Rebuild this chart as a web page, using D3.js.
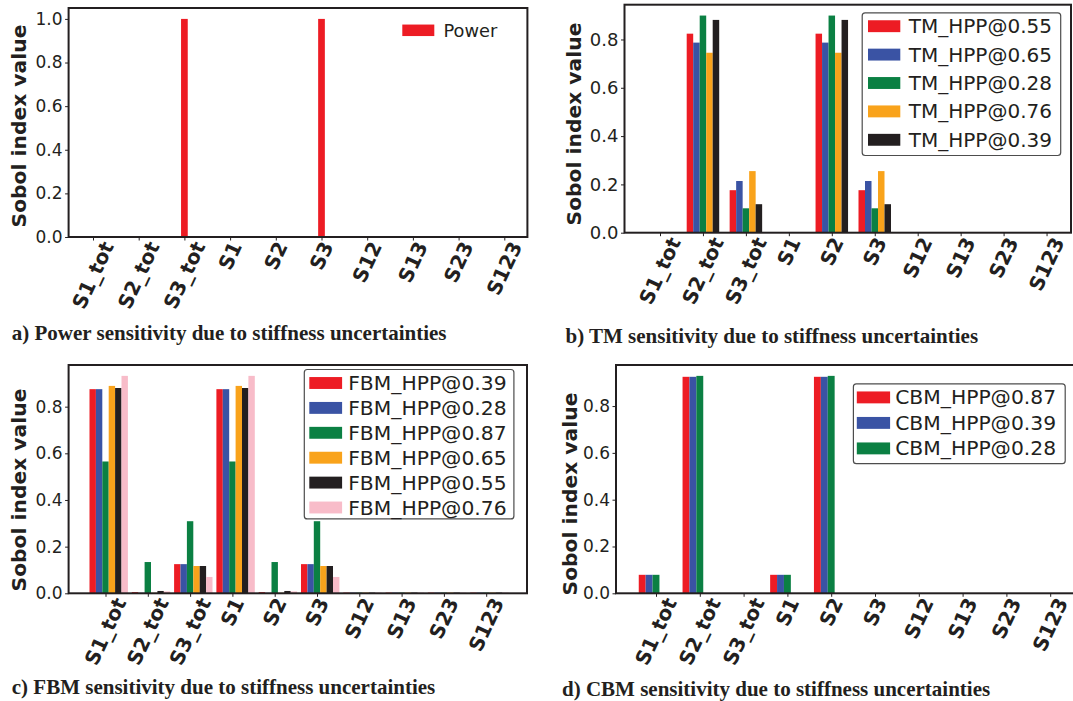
<!DOCTYPE html>
<html>
<head>
<meta charset="utf-8">
<script src="https://cdn.jsdelivr.net/npm/d3@7"></script>
<style>
  html, body { margin: 0; padding: 0; background: #ffffff; }
  svg { display: block; }
</style>
</head>
<body>
<svg id="fig" width="1073" height="701"></svg>
<script>
// Sobol indices that are reported for each output
const categories = ["S1_tot", "S2_tot", "S3_tot", "S1", "S2", "S3", "S12", "S13", "S23", "S123"];

// a) Power
const powerNames = ["Power"];
const powerValues = [
  [0, 0, 1.0, 0, 0, 1.0, 0, 0, 0, 0]
];

// b) TM
const tmNames = ["TM_HPP@0.55", "TM_HPP@0.65", "TM_HPP@0.28", "TM_HPP@0.76", "TM_HPP@0.39"];
const tmValues = [
  [0.002, 0.824, 0.176, 0.002, 0.824, 0.176, 0.002, 0.002, 0.002, 0.002],
  [0.002, 0.787, 0.214, 0.002, 0.787, 0.214, 0.002, 0.002, 0.002, 0.002],
  [0.002, 0.899, 0.101, 0.002, 0.899, 0.101, 0.002, 0.002, 0.002, 0.002],
  [0.002, 0.745, 0.255, 0.002, 0.745, 0.255, 0.002, 0.002, 0.002, 0.002],
  [0.002, 0.881, 0.118, 0.002, 0.881, 0.118, 0.002, 0.002, 0.002, 0.002]
];

// c) FBM
const fbmNames = ["FBM_HPP@0.39", "FBM_HPP@0.28", "FBM_HPP@0.87", "FBM_HPP@0.65", "FBM_HPP@0.55", "FBM_HPP@0.76"];
const fbmValues = [
  [0.875, 0.005, 0.125, 0.875, 0.005, 0.125, 0.003, 0.003, 0.003, 0.003],
  [0.875, 0.002, 0.125, 0.875, 0.002, 0.125, 0.003, 0.003, 0.003, 0.003],
  [0.565, 0.134, 0.309, 0.565, 0.134, 0.309, 0.003, 0.003, 0.003, 0.003],
  [0.889, 0.002, 0.117, 0.889, 0.002, 0.117, 0.003, 0.003, 0.003, 0.003],
  [0.880, 0.010, 0.117, 0.880, 0.010, 0.117, 0.003, 0.003, 0.003, 0.003],
  [0.932, 0.008, 0.070, 0.932, 0.008, 0.070, 0.003, 0.003, 0.003, 0.003]
];

// d) CBM
const cbmNames = ["CBM_HPP@0.87", "CBM_HPP@0.39", "CBM_HPP@0.28"];
const cbmValues = [
  [0.079, 0.925, 0, 0.079, 0.925, 0, 0, 0, 0, 0],
  [0.079, 0.925, 0, 0.079, 0.925, 0, 0, 0, 0, 0],
  [0.079, 0.929, 0, 0.079, 0.929, 0, 0, 0, 0, 0]
];

const yTickValues = [0, 0.2, 0.4, 0.6, 0.8, 1.0];
const yLabel = "Sobol index value";
const captions = [
  "a) Power sensitivity due to stiffness uncertainties",
  "b) TM sensitivity due to stiffness uncertainties",
  "c) FBM sensitivity due to stiffness uncertainties",
  "d) CBM sensitivity due to stiffness uncertainties"
];

const colors = ["#ED1C24", "#3A53A4", "#0B8043", "#F9A31B", "#231F20", "#F8BCC9"];
const ink = "#231F20";
const sans = "DejaVu Sans, Noto Sans, sans-serif";
const serif = "Liberation Serif, Times New Roman, serif";

const fig = d3.select("#fig");

// one bar-chart panel
function drawPanel(cfg) {
  const g = fig.append("g");
  const { l, t, r, b } = cfg.frame;
  const n = categories.length;

  const x = d3.scalePoint()
    .domain(categories)
    .range([cfg.tick0, cfg.tick0 + cfg.step * (n - 1)]);
  const yMax = d3.max(cfg.values.flat()) * 1.05;
  const y = d3.scaleLinear().domain([0, yMax]).range([b, t]);

  // bars, grouped per category
  cfg.values.forEach((series, j) => {
    g.append("g")
      .selectAll("rect")
      .data(series)
      .join("rect")
      .attr("x", (v, i) => x(categories[i]) + (j - cfg.ref - 0.5) * cfg.barW)
      .attr("y", v => y(v))
      .attr("width", cfg.barW)
      .attr("height", v => y(0) - y(v))
      .attr("fill", colors[j]);
  });

  // axes frame
  g.append("rect")
    .attr("x", l).attr("y", t)
    .attr("width", r - l).attr("height", b - t)
    .attr("fill", "none")
    .attr("stroke", ink)
    .attr("stroke-width", 2);

  // y axis
  const yAxis = d3.axisLeft(y)
    .tickValues(yTickValues.filter(v => v <= yMax))
    .tickFormat(d3.format(".1f"))
    .tickSize(3.5)
    .tickPadding(2.5);
  const ya = g.append("g").attr("transform", `translate(${l},0)`).call(yAxis);
  ya.select(".domain").remove();
  ya.selectAll(".tick line").attr("stroke", ink).attr("stroke-width", 1);
  ya.selectAll(".tick text")
    .attr("font-family", sans)
    .attr("font-size", cfg.yFont)
    .attr("fill", ink);

  // x axis tick marks
  const xAxis = d3.axisBottom(x).tickSize(3.5).tickFormat("");
  const xa = g.append("g").attr("transform", `translate(0,${b})`).call(xAxis);
  xa.select(".domain").remove();
  xa.selectAll(".tick line").attr("stroke", ink).attr("stroke-width", 1);

  // rotated category labels, bounding box centred under each tick
  const ang = 65 * Math.PI / 180;
  const fs = cfg.xFont;
  g.append("g")
    .selectAll("text")
    .data(categories)
    .join("text")
    .text(d => d)
    .attr("font-family", sans)
    .attr("font-weight", "bold")
    .attr("font-size", fs)
    .attr("fill", ink)
    .attr("text-anchor", "middle")
    .attr("dominant-baseline", "central")
    .attr("transform", function (d) {
      const L = this.getComputedTextLength();
      const h = 1.164 * fs;
      const ext = L * Math.sin(ang) + h * Math.cos(ang);
      return `translate(${x(d)},${b + cfg.xPad + ext / 2}) rotate(-65)`;
    });

  // y label
  g.append("text")
    .text(yLabel)
    .attr("font-family", sans)
    .attr("font-weight", "bold")
    .attr("font-size", 20.3)
    .attr("fill", ink)
    .attr("text-anchor", "middle")
    .attr("dominant-baseline", "central")
    .attr("transform", `translate(${cfg.yLabelX},${cfg.yLabelY}) rotate(-90)`);

  // legend
  const lg = cfg.legend;
  const leg = g.append("g");
  if (lg.box) {
    leg.append("rect")
      .attr("x", lg.box[0]).attr("y", lg.box[1])
      .attr("width", lg.box[2] - lg.box[0]).attr("height", lg.box[3] - lg.box[1])
      .attr("rx", 3).attr("ry", 3)
      .attr("fill", "#ffffff")
      .attr("stroke", "#4d4d4d")
      .attr("stroke-width", 1.2);
  }
  const rows = leg.selectAll("g.row")
    .data(cfg.names)
    .join("g")
    .attr("class", "row")
    .attr("transform", (d, i) => `translate(0,${lg.y0 + i * lg.dy})`);
  rows.append("rect")
    .attr("x", lg.px)
    .attr("y", -lg.ph / 2)
    .attr("width", lg.pw)
    .attr("height", lg.ph)
    .attr("fill", (d, i) => colors[i]);
  rows.append("text")
    .text(d => d)
    .attr("x", lg.tx)
    .attr("y", 0)
    .attr("dominant-baseline", "central")
    .attr("font-family", sans)
    .attr("font-size", lg.fs)
    .attr("fill", ink);

  // caption
  fig.append("text")
    .text(cfg.caption)
    .attr("x", cfg.capX)
    .attr("y", cfg.capY)
    .attr("font-family", serif)
    .attr("font-weight", "bold")
    .attr("font-size", 21)
    .attr("fill", ink);
}

drawPanel({
  names: powerNames, values: powerValues, caption: captions[0],
  frame: { l: 68.6, t: 8, r: 527.4, b: 237 },
  tick0: 93.0, step: 45.7, barW: 6.7, ref: 0,
  yFont: 17, xFont: 20, xPad: 1,
  yLabelX: 19.4, yLabelY: 126,
  legend: { box: null, px: 402.3, pw: 32, ph: 11.5, tx: 443.5, y0: 30.3, dy: 28, fs: 17.8 },
  capX: 11.8, capY: 340
});

drawPanel({
  names: tmNames, values: tmValues, caption: captions[1],
  frame: { l: 624.5, t: 4.7, r: 1071, b: 232.7 },
  tick0: 660, step: 42.95, barW: 6.5, ref: 2,
  yFont: 18, xFont: 20, xPad: 1,
  yLabelX: 574, yLabelY: 124,
  legend: { box: [862.2, 12.8, 1060.7, 155.5], px: 868, pw: 32.3, ph: 11.9, tx: 908.8, y0: 26.2, dy: 28.4, fs: 20 },
  capX: 565.5, capY: 343
});

drawPanel({
  names: fbmNames, values: fbmValues, caption: captions[2],
  frame: { l: 68.6, t: 365, r: 527, b: 593.3 },
  tick0: 105.5, step: 42.3, barW: 6.4, ref: 2,
  yFont: 17, xFont: 20, xPad: 1,
  yLabelX: 19.4, yLabelY: 490,
  legend: { box: [304.3, 369.5, 513.9, 518.9], px: 309.3, pw: 32.8, ph: 11.9, tx: 348.2, y0: 383, dy: 24.9, fs: 20.3 },
  capX: 11.8, capY: 694
});

drawPanel({
  names: cbmNames, values: cbmValues, caption: captions[3],
  frame: { l: 616, t: 365, r: 1085, b: 593.3 },
  tick0: 656, step: 43.8, barW: 6.9, ref: 2,
  yFont: 17, xFont: 20, xPad: 1,
  yLabelX: 570, yLabelY: 494,
  legend: { box: [853.4, 383.8, 1065.2, 463.7], px: 856.8, pw: 33.3, ph: 11.9, tx: 895.2, y0: 397.4, dy: 25.5, fs: 20.3 },
  capX: 562, capY: 696
});
</script>
</body>
</html>
